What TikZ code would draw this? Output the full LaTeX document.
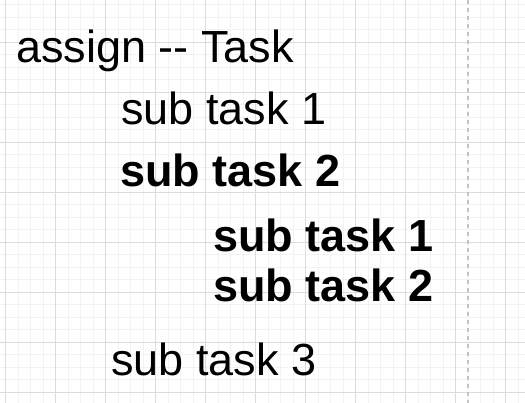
\documentclass[tikz,border=0pt]{standalone}
\usepackage{fontspec}
\setmainfont{Liberation Sans}
\definecolor{gridminor}{HTML}{F2F2F2}
\definecolor{gridmajor}{HTML}{DCDCDC}
\definecolor{pageedge}{HTML}{C4C4C4}
\begin{document}
\begin{tikzpicture}[x=1pt, y=-1pt,
    textline/.style={anchor=base west, inner sep=0pt, font=\fontsize{45}{52}\selectfont},
    boldline/.style={textline, font=\fontsize{45}{52}\selectfont\bfseries},
  ]
  \useasboundingbox (0,0) rectangle (525,403);
  \fill[white] (0,0) rectangle (525,403);

  % grid
  \foreach \x in {5.5,18,...,525} \draw[gridminor, line width=0.8pt] (\x,0) -- (\x,403);
  \foreach \y in {4.5,17,...,403} \draw[gridminor, line width=0.8pt] (0,\y) -- (525,\y);
  \foreach \x in {5.5,55.5,...,505.5} \draw[gridmajor, line width=0.8pt] (\x,0) -- (\x,403);
  \foreach \y in {42,92,...,392} \draw[gridmajor, line width=0.8pt] (0,\y) -- (525,\y);
  \draw[pageedge, line width=1.2pt, dash pattern=on 4pt off 4pt] (468,0) -- (468,403);

  \node[textline] (title) at (16,63) {assign -{}- Task};
  \node[textline] (sub1) at (121,125) {sub task 1};
  \node[boldline] (sub2) at (120,187) {sub task 2};
  \node[boldline] (sub21) at (213,252) {sub task 1};
  \node[boldline] (sub22) at (213,302) {sub task 2};
  \node[textline] (sub3) at (111,376) {sub task 3};
\end{tikzpicture}
\end{document}
